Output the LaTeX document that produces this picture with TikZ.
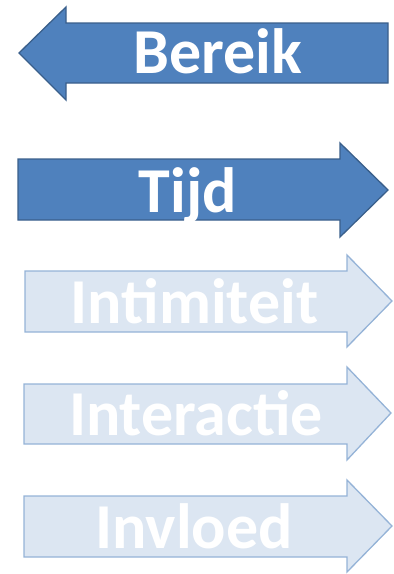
\documentclass[tikz,border=0pt]{standalone}
\usepackage{fontspec}
\setmainfont{Carlito}
\definecolor{darkfill}{HTML}{4F81BD}
\definecolor{darkline}{HTML}{3A5F8B}
\definecolor{lightfill}{HTML}{DCE6F2}
\definecolor{lightline}{HTML}{95B3D7}
\begin{document}
\begin{tikzpicture}[x=1pt,y=-1pt,
  strong/.style={fill=darkfill,draw=darkline,line width=1.3pt,line join=miter},
  faint/.style={fill=lightfill,draw=lightline,line width=1.3pt,line join=miter},
  label/.style={text=white,font=\bfseries\fontsize{64}{64}\selectfont,inner sep=0pt,anchor=base}]
\useasboundingbox (0,0) rectangle (394,574);
% arrow pointing left
\draw[strong] (19,53) -- (66,7) -- (66,23) -- (388,23) -- (388,83) -- (66,83) -- (66,100) -- cycle;
% arrows pointing right
\draw[strong] (18,159) -- (340,159) -- (340,143) -- (388,190) -- (340,237) -- (340,220) -- (18,220) -- cycle;
\draw[faint] (25,271) -- (347,271) -- (347,255) -- (392,301) -- (347,347) -- (347,332) -- (25,332) -- cycle;
\draw[faint] (24,384) -- (347,384) -- (347,367) -- (391,413) -- (347,460) -- (347,444) -- (24,444) -- cycle;
\draw[faint] (24,496) -- (347,496) -- (347,480) -- (392,526) -- (347,572) -- (347,557) -- (24,557) -- cycle;
% labels
\node[label] (bereik) at (217.5,73) {Bereik};
\node[label] (tijd) at (188,212) {Tijd};
\node[label] (intimiteit) at (194.5,323) {Intimiteit};
\node[label] (interactie) at (196,435) {Interactie};
\node[label] (invloed) at (194,548) {Invloed};
\end{tikzpicture}
\end{document}
